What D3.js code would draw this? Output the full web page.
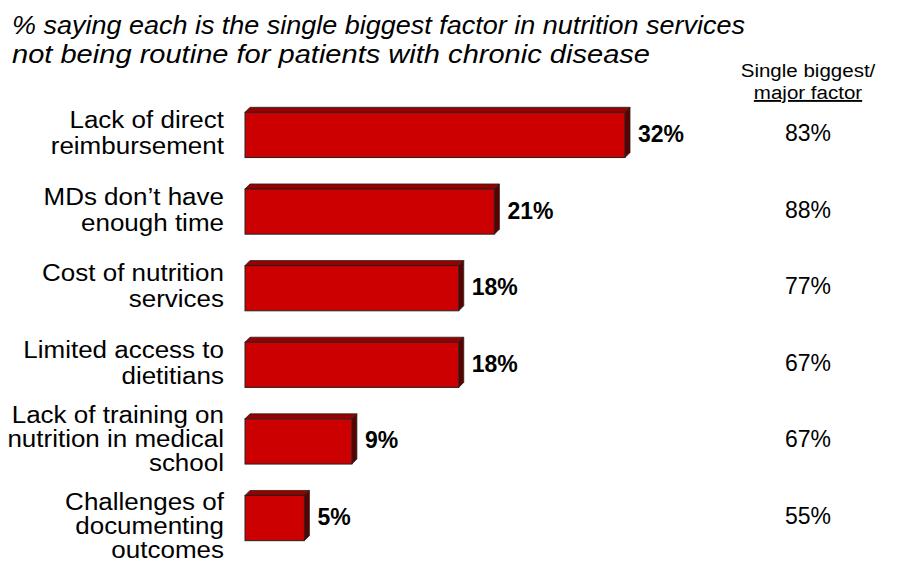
<!DOCTYPE html>
<html>
<head>
<meta charset="utf-8">
<script src="https://cdn.jsdelivr.net/npm/d3@7"></script>
<style>
 body { margin: 0; background: #fff; }
 text { font-family: "Liberation Sans", Arial, sans-serif; fill: #000; }
</style>
</head>
<body>
<div id="chart"></div>
<script>
// data
const categories = [
  ["Lack of direct", "reimbursement"],
  ["MDs don\u2019t have", "enough time"],
  ["Cost of nutrition", "services"],
  ["Limited access to", "dietitians"],
  ["Lack of training on", "nutrition in medical", "school"],
  ["Challenges of", "documenting", "outcomes"]
];
const singleBiggest = [32, 21, 18, 18, 9, 5];
const majorFactor = [83, 88, 77, 67, 67, 55];
const titleLines = [
  "% saying each is the single biggest factor in nutrition services",
  "not being routine for patients with chronic disease"
];
const headerLines = ["Single biggest/", "major factor"];

const width = 897, height = 567;
const depth = 5;

const svg = d3
  .select("#chart")
  .append("svg")
  .attr("width", width)
  .attr("height", height);

// scales
const x = d3.scaleLinear().domain([0, 32]).range([245, 625]);
const y = d3
  .scaleBand()
  .domain(d3.range(categories.length))
  .range([97, 556])
  .paddingInner(0.41)
  .paddingOuter(0.2);

// title
const titleLen = [733, 638];
svg
  .append("g")
  .selectAll("text")
  .data(titleLines)
  .enter()
  .append("text")
  .attr("x", 12)
  .attr("y", (d, i) => 34 + i * 29)
  .attr("textLength", (d, i) => titleLen[i])
  .attr("lengthAdjust", "spacingAndGlyphs")
  .style("font-size", "25px")
  .style("font-style", "italic")
  .text((d) => d);

// right column header
const colX = 808;
svg
  .append("g")
  .attr("transform", `translate(${colX},0) scale(1.08,1)`)
  .selectAll("text")
  .data(headerLines)
  .enter()
  .append("text")
  .attr("x", 0)
  .attr("y", (d, i) => 77 + i * 22)
  .attr("text-anchor", "middle")
  .style("font-size", "19px")
  .style("text-decoration", (d, i) => (i == 1 ? "underline" : null))
  .text((d) => d);

const bars = svg
  .append("g")
  .selectAll("g")
  .data(singleBiggest)
  .enter()
  .append("g");

// top face
bars
  .append("path")
  .attr("d", (d, i) => {
    const x0 = x(0), x1 = x(d), t = y(i);
    return `M${x0},${t}L${x0 + depth},${t - depth}L${x1 + depth},${t - depth}L${x1},${t}Z`;
  })
  .attr("fill", "#990000")
  .attr("stroke", "#222")
  .attr("stroke-width", 0.8);

// side face
bars
  .append("path")
  .attr("d", (d, i) => {
    const x1 = x(d), t = y(i), b = y(i) + y.bandwidth();
    return `M${x1},${t}L${x1 + depth},${t - depth}L${x1 + depth},${b - depth}L${x1},${b}Z`;
  })
  .attr("fill", "#5c0000")
  .attr("stroke", "#222")
  .attr("stroke-width", 0.8);

// front face
bars
  .append("rect")
  .attr("x", x(0))
  .attr("y", (d, i) => y(i))
  .attr("width", (d) => x(d) - x(0))
  .attr("height", y.bandwidth())
  .attr("fill", "#cc0000")
  .attr("stroke", "#222")
  .attr("stroke-width", 1);

// value labels
bars
  .append("text")
  .attr("x", (d) => x(d) + depth + 8)
  .attr("y", (d, i) => y(i) + y.bandwidth() / 2 - 1)
  .attr("dy", "0.35em")
  .style("font-size", "23px")
  .style("font-weight", "bold")
  .text((d) => d + "%");

// right column values
svg
  .append("g")
  .selectAll("text")
  .data(majorFactor)
  .enter()
  .append("text")
  .attr("x", colX)
  .attr("y", (d, i) => y(i) + y.bandwidth() / 2 - 2)
  .attr("dy", "0.35em")
  .attr("text-anchor", "middle")
  .style("font-size", "23px")
  .text((d) => d + "%");

// category labels (right aligned, slightly wide)
svg
  .append("g")
  .selectAll("text")
  .data(categories)
  .enter()
  .append("text")
  .attr("text-anchor", "end")
  .attr("transform", "translate(224,0) scale(1.13,1)")
  .style("font-size", "23px")
  .each(function (d, i) {
    const lineH = d.length > 2 ? 24 : 26;
    let cy = y(i) + y.bandwidth() / 2 - 2;
    if (i == categories.length - 1) cy += 10; // last label sits low
    const start = cy - ((d.length - 1) * lineH) / 2;
    d3.select(this)
      .selectAll("tspan")
      .data(d)
      .enter()
      .append("tspan")
      .attr("x", 0)
      .attr("y", (s, j) => start + j * lineH)
      .attr("dy", "0.35em")
      .text((s) => s);
  });
</script>
</body>
</html>
